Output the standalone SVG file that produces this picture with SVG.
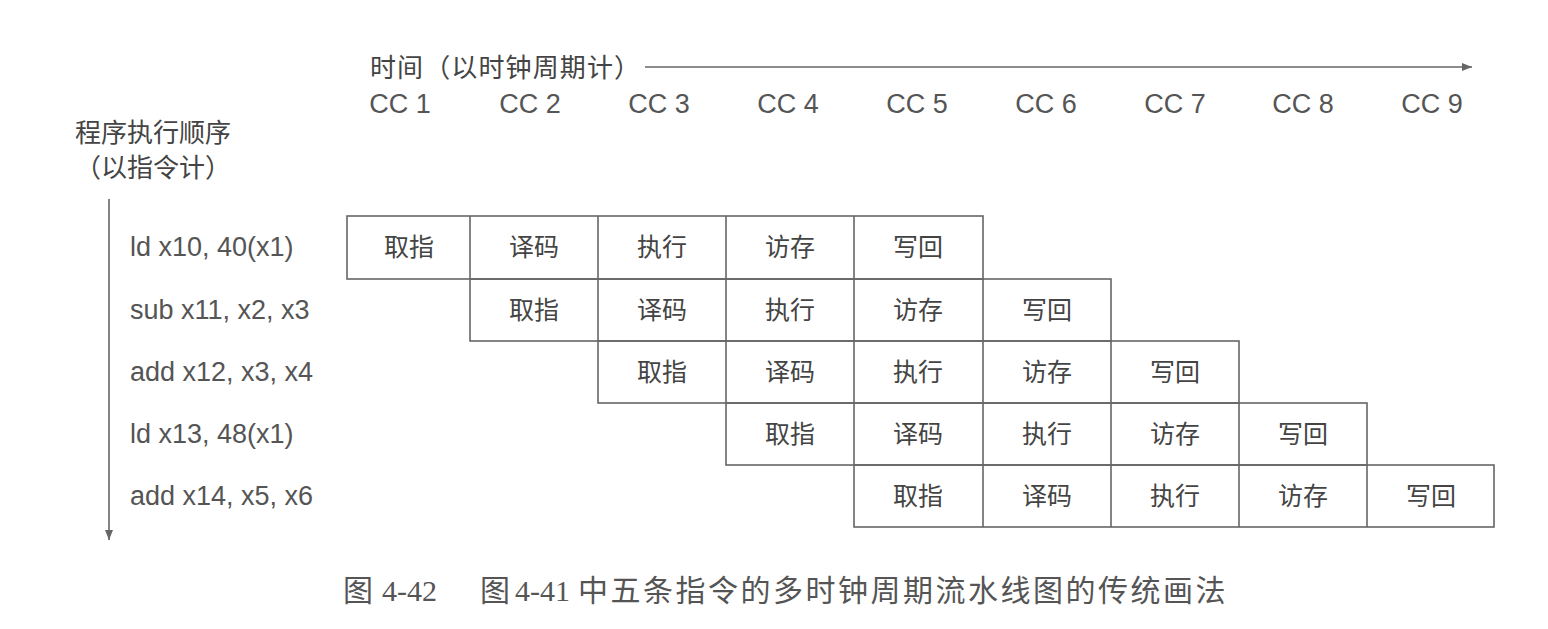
<svg xmlns="http://www.w3.org/2000/svg" width="1548" height="629" viewBox="0 0 1548 629">
  <defs>
    <style>
      .lbl { font-family: "Noto Sans CJK SC", "Liberation Sans", sans-serif; font-size: 26px; fill: #444; }
      .lat { font-family: "Liberation Sans", "Noto Sans CJK SC", sans-serif; font-size: 27px; fill: #555; }
      .cell { font-family: "Noto Sans CJK SC", sans-serif; font-size: 25px; fill: #444; text-anchor: middle; }
      .cap { font-family: "Liberation Serif", "Noto Sans CJK SC", serif; font-size: 30px; fill: #555; }
      .box { fill: none; stroke: #666; stroke-width: 1.6; }
      .axis { fill: none; stroke: #666; stroke-width: 1.6; }
    </style>
    <marker id="arr" viewBox="0 0 10 10" refX="10" refY="5" markerWidth="10" markerHeight="10" markerUnits="userSpaceOnUse" orient="auto">
      <path d="M0,1 L10,5 L0,9 z" fill="#666"/>
    </marker>
  </defs>
  <rect width="1548" height="629" fill="#fff"/>

  <g id="axes">
    <line class="axis" x1="645" y1="67" x2="1472" y2="67" marker-end="url(#arr)"/>
    <line class="axis" x1="109" y1="199" x2="109" y2="540" marker-end="url(#arr)"/>
  </g>

  <g id="time-header">
    <text class="lbl" x="370" y="77" textLength="270" lengthAdjust="spacing">时间（以时钟周期计）</text>
    <g class="lat" text-anchor="middle">
      <text x="400" y="113">CC 1</text>
      <text x="530" y="113">CC 2</text>
      <text x="659" y="113">CC 3</text>
      <text x="788" y="113">CC 4</text>
      <text x="917" y="113">CC 5</text>
      <text x="1046" y="113">CC 6</text>
      <text x="1175" y="113">CC 7</text>
      <text x="1303" y="113">CC 8</text>
      <text x="1432" y="113">CC 9</text>
    </g>
  </g>

  <g id="order-header">
    <text class="lbl" x="75" y="142">程序执行顺序</text>
    <text class="lbl" x="75" y="177">（以指令计）</text>
  </g>

  <g id="instructions" class="lat">
    <text x="130" y="256">ld x10, 40(x1)</text>
    <text x="130" y="319">sub x11, x2, x3</text>
    <text x="130" y="381">add x12, x3, x4</text>
    <text x="130" y="443">ld x13, 48(x1)</text>
    <text x="130" y="505">add x14, x5, x6</text>
  </g>

  <g id="row1">
    <rect class="box" x="347" y="216" width="636" height="63"/>
    <line class="box" x1="470" y1="216" x2="470" y2="279"/>
    <line class="box" x1="598" y1="216" x2="598" y2="279"/>
    <line class="box" x1="726" y1="216" x2="726" y2="279"/>
    <line class="box" x1="854" y1="216" x2="854" y2="279"/>
    <text class="cell" x="409" y="256">取指</text>
    <text class="cell" x="534" y="256">译码</text>
    <text class="cell" x="662" y="256">执行</text>
    <text class="cell" x="790" y="256">访存</text>
    <text class="cell" x="918" y="256">写回</text>
  </g>

  <g id="row2">
    <rect class="box" x="470" y="279" width="641" height="62"/>
    <line class="box" x1="598" y1="279" x2="598" y2="341"/>
    <line class="box" x1="726" y1="279" x2="726" y2="341"/>
    <line class="box" x1="854" y1="279" x2="854" y2="341"/>
    <line class="box" x1="983" y1="279" x2="983" y2="341"/>
    <text class="cell" x="534" y="319">取指</text>
    <text class="cell" x="662" y="319">译码</text>
    <text class="cell" x="790" y="319">执行</text>
    <text class="cell" x="918" y="319">访存</text>
    <text class="cell" x="1047" y="319">写回</text>
  </g>

  <g id="row3">
    <rect class="box" x="598" y="341" width="641" height="62"/>
    <line class="box" x1="726" y1="341" x2="726" y2="403"/>
    <line class="box" x1="854" y1="341" x2="854" y2="403"/>
    <line class="box" x1="983" y1="341" x2="983" y2="403"/>
    <line class="box" x1="1111" y1="341" x2="1111" y2="403"/>
    <text class="cell" x="662" y="381">取指</text>
    <text class="cell" x="790" y="381">译码</text>
    <text class="cell" x="918" y="381">执行</text>
    <text class="cell" x="1047" y="381">访存</text>
    <text class="cell" x="1175" y="381">写回</text>
  </g>

  <g id="row4">
    <rect class="box" x="726" y="403" width="641" height="62"/>
    <line class="box" x1="854" y1="403" x2="854" y2="465"/>
    <line class="box" x1="983" y1="403" x2="983" y2="465"/>
    <line class="box" x1="1111" y1="403" x2="1111" y2="465"/>
    <line class="box" x1="1239" y1="403" x2="1239" y2="465"/>
    <text class="cell" x="790" y="443">取指</text>
    <text class="cell" x="918" y="443">译码</text>
    <text class="cell" x="1047" y="443">执行</text>
    <text class="cell" x="1175" y="443">访存</text>
    <text class="cell" x="1303" y="443">写回</text>
  </g>

  <g id="row5">
    <rect class="box" x="854" y="465" width="640" height="62"/>
    <line class="box" x1="983" y1="465" x2="983" y2="527"/>
    <line class="box" x1="1111" y1="465" x2="1111" y2="527"/>
    <line class="box" x1="1239" y1="465" x2="1239" y2="527"/>
    <line class="box" x1="1367" y1="465" x2="1367" y2="527"/>
    <text class="cell" x="918" y="505">取指</text>
    <text class="cell" x="1047" y="505">译码</text>
    <text class="cell" x="1175" y="505">执行</text>
    <text class="cell" x="1303" y="505">访存</text>
    <text class="cell" x="1431" y="505">写回</text>
  </g>

  <g id="caption" class="cap">
    <text x="343" y="601">图<tspan x="382">4-42</tspan></text>
    <text x="480" y="601">图<tspan x="515">4-41</tspan><tspan x="578" letter-spacing="2.5">中五条指令的多时钟周期流水线图的传统画法</tspan></text>
  </g>
</svg>
